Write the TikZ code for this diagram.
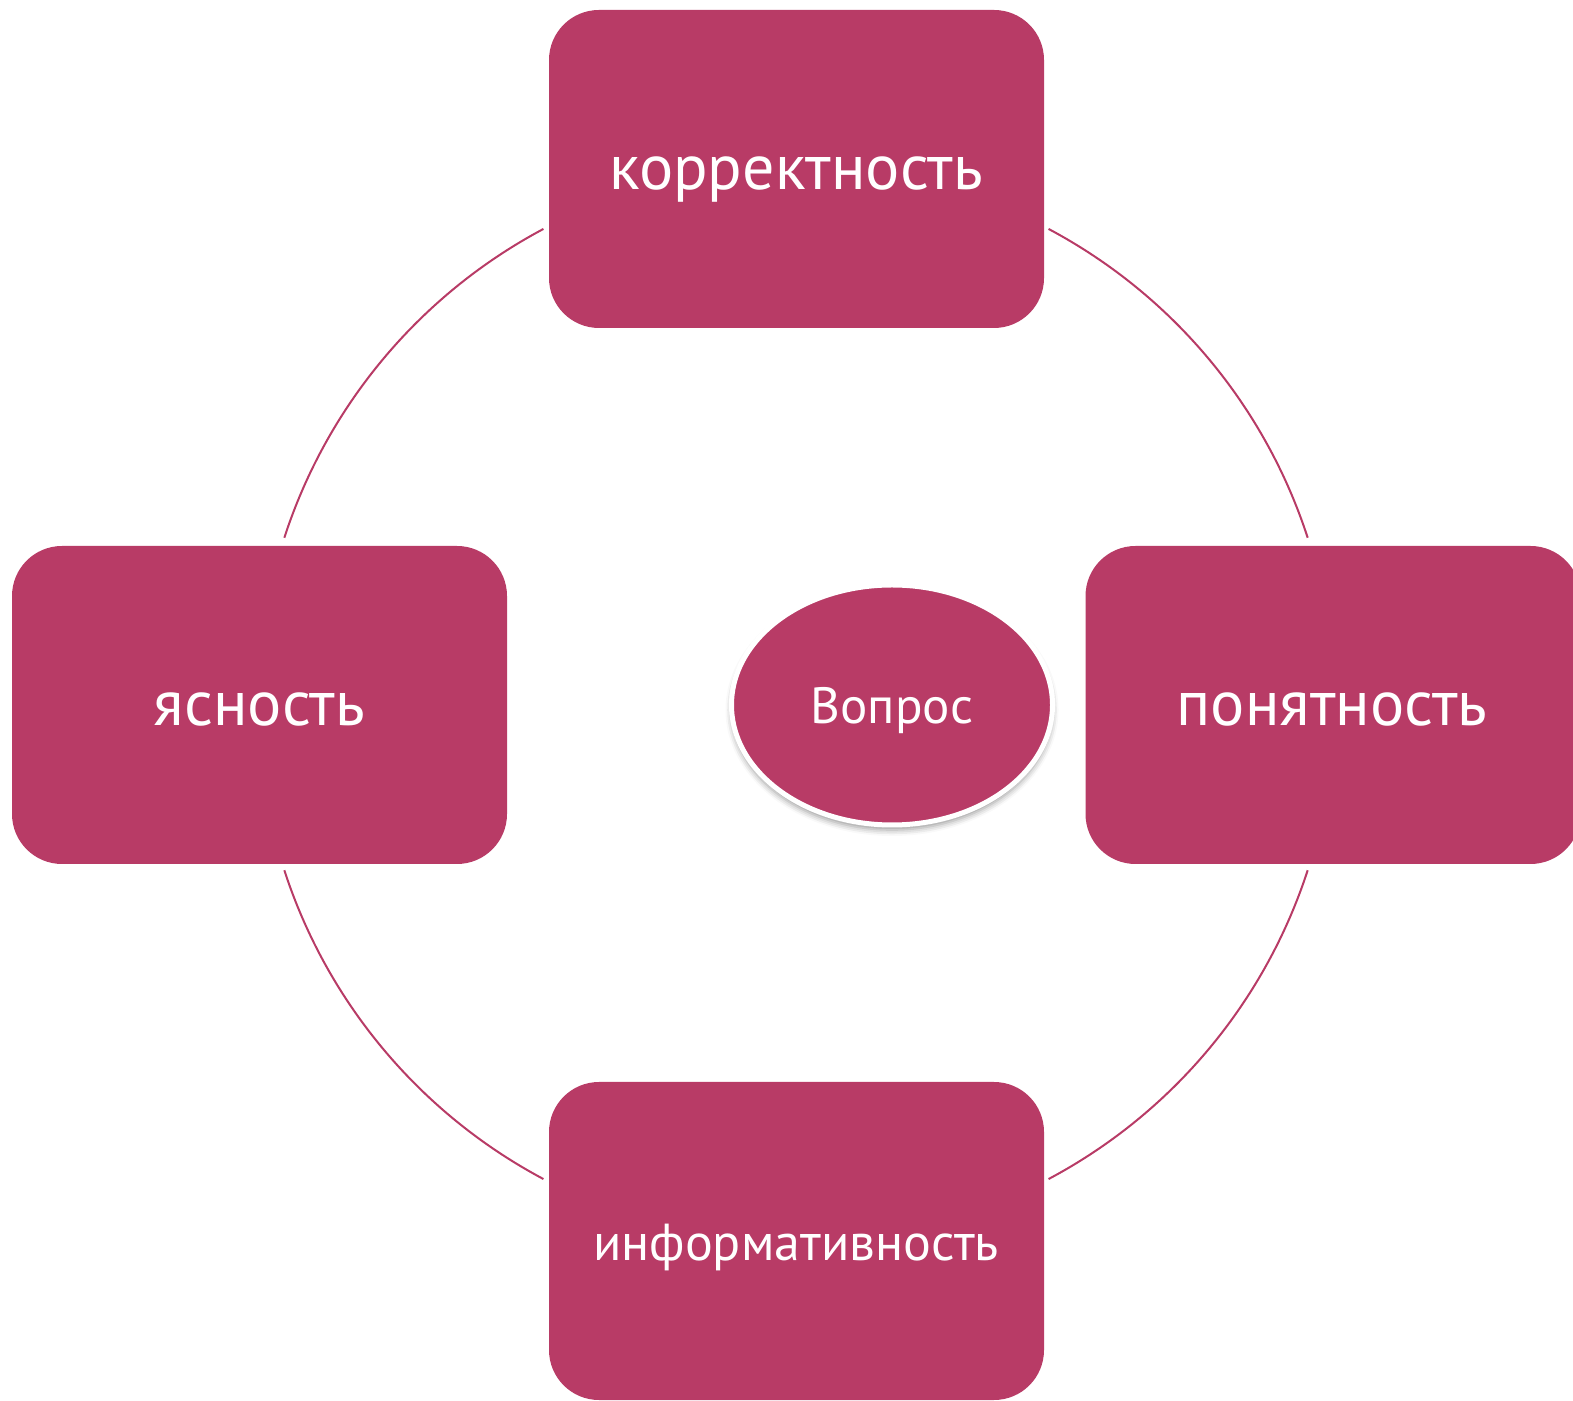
\documentclass[tikz,border=0pt]{standalone}
\usepackage{fontspec}
\setmainfont{PT Sans}
\usetikzlibrary{shapes.geometric,shadows.blur}
\definecolor{berry}{HTML}{B83B66}
\tikzset{
  box/.style={fill=berry, rounded corners=50pt, minimum width=495pt, minimum height=318pt, inner sep=0pt},
  label/.style={text=white, inner sep=0pt},
  hub/.style={ellipse, fill=berry, draw=white, line width=5pt, minimum width=321pt, minimum height=240pt, inner sep=0pt, blur shadow={shadow xshift=0pt, shadow yshift=-5pt, shadow blur radius=6pt, shadow opacity=40}},
  ring/.style={draw=berry, line width=2pt}
}
\begin{document}
\begin{tikzpicture}[x=1pt,y=1pt]
\useasboundingbox (0,0) rectangle (1573,1400);
\clip (0,0) rectangle (1573,1400);
\coordinate (c) at (796,696);
\draw[ring] ([shift={(c)}]18:538) arc[start angle=18,end angle=62,radius=538];
\draw[ring] ([shift={(c)}]118:538) arc[start angle=118,end angle=162,radius=538];
\draw[ring] ([shift={(c)}]198:538) arc[start angle=198,end angle=242,radius=538];
\draw[ring] ([shift={(c)}]298:538) arc[start angle=298,end angle=342,radius=538];
\node[box] (top) at (796.5,1231) {};
\node[box] (left) at (259.5,695) {};
\node[box] (right) at (1333,695) {};
\node[box] (bottom) at (796.5,159) {};
\node[hub] (q) at (892,695) {};
\node[label, font=\fontsize{64}{70}\selectfont, anchor=base] (topt) at (796,1210) {корректность};
\node[label, font=\fontsize{64}{70}\selectfont, anchor=base] (leftt) at (259.5,674) {ясность};
\node[label, font=\fontsize{64}{70}\selectfont, anchor=base] (rightt) at (1332,674) {понятность};
\node[label, font=\fontsize{52}{60}\selectfont, anchor=base] (bottomt) at (796,140) {информативность};
\node[label, font=\fontsize{51}{60}\selectfont, anchor=base] (qt) at (892,676) {Вопрос};
\end{tikzpicture}
\end{document}
